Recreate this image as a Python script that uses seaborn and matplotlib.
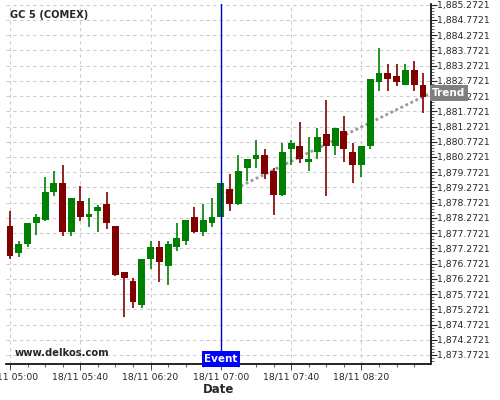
import pandas as pd
import matplotlib.pyplot as plt
import seaborn as sns
from matplotlib.ticker import FixedLocator, AutoMinorLocator, FuncFormatter
import matplotlib.transforms as mtransforms
import numpy as np

# 5 minute candles, GC 5 (COMEX), 18/11 05:00 - 08:55
times = pd.date_range("2019-11-18 05:00", periods=48, freq="5min")
opens = [1878.01, 1877.13, 1877.42, 1878.11, 1878.20, 1879.12, 1879.42, 1877.82,
         1878.83, 1878.30, 1878.50, 1878.73, 1878.01, 1876.49, 1876.20, 1875.41,
         1876.92, 1877.32, 1876.69, 1877.32, 1877.51, 1878.30, 1877.81, 1878.12,
         1878.31, 1879.22, 1878.73, 1879.91, 1880.21, 1880.33, 1879.81, 1879.02,
         1880.54, 1880.63, 1880.11, 1880.45, 1881.03, 1880.63, 1881.13, 1880.44,
         1880.01, 1880.63, 1882.73, 1883.03, 1882.93, 1882.64, 1883.13, 1882.64]
highs = [1878.50, 1877.52, 1878.11, 1878.39, 1879.61, 1879.81, 1880.01, 1878.92,
         1879.32, 1878.91, 1878.69, 1879.12, 1878.01, 1876.49, 1876.29, 1876.92,
         1877.51, 1877.51, 1877.51, 1878.11, 1878.20, 1878.62, 1878.72, 1878.91,
         1879.42, 1879.70, 1880.33, 1880.21, 1880.82, 1880.53, 1879.90, 1880.72,
         1880.82, 1881.41, 1880.92, 1881.21, 1882.13, 1881.22, 1881.62, 1880.73,
         1880.63, 1882.83, 1883.86, 1883.33, 1883.33, 1883.33, 1883.43, 1883.03]
lows = [1876.91, 1877.00, 1877.31, 1877.70, 1878.17, 1879.00, 1877.69, 1877.69,
        1878.18, 1877.98, 1877.80, 1877.90, 1876.37, 1875.01, 1875.30, 1875.30,
        1876.58, 1876.18, 1876.08, 1877.20, 1877.39, 1877.79, 1877.69, 1877.98,
        1878.31, 1878.49, 1878.69, 1879.49, 1879.91, 1879.56, 1878.38, 1878.99,
        1880.00, 1880.09, 1879.80, 1880.21, 1879.00, 1880.33, 1880.10, 1879.41,
        1879.61, 1880.53, 1882.43, 1882.43, 1882.60, 1882.64, 1882.43, 1881.71]
closes = [1877.02, 1877.42, 1878.11, 1878.30, 1879.12, 1879.42, 1877.82, 1878.92,
          1878.30, 1878.40, 1878.63, 1878.12, 1876.40, 1876.31, 1875.52, 1876.92,
          1877.32, 1876.82, 1877.42, 1877.61, 1878.20, 1877.81, 1878.20, 1878.31,
          1879.42, 1878.74, 1879.81, 1880.21, 1880.33, 1879.71, 1879.02, 1880.44,
          1880.73, 1880.21, 1880.21, 1880.93, 1880.63, 1881.22, 1880.54, 1880.01,
          1880.63, 1882.83, 1883.03, 1882.83, 1882.73, 1883.13, 1882.64, 1882.24]

event_idx = 24                      # 18/11 07:00
trend_idx = [24, 47.86]
trend_price = [1879.00, 1882.37]
ytick_vals = np.arange(1873.7721, 1885.3, 0.5)

df = pd.DataFrame({"time": times, "open": opens, "high": highs,
                   "low": lows, "close": closes})
df["i"] = range(len(df))
df["up"] = df["close"] >= df["open"]
df["color"] = np.where(df["up"], "#008000", "#800000")

sns.set_style("white")
fig = plt.figure(figsize=(5, 4), dpi=100)
ax = fig.add_axes([0.012, 0.09, 0.849, 0.90])

# wicks + bodies
ax.vlines(df["i"], df["low"], df["high"], colors=df["color"], linewidth=1.2, zorder=3)
body_lo = df[["open", "close"]].min(axis=1)
body_h = (df["close"] - df["open"]).abs().clip(lower=0.03)
ax.bar(df["i"], body_h, bottom=body_lo, width=0.78, color=df["color"],
       linewidth=0, zorder=4)

# trend line
tr = pd.DataFrame({"x": trend_idx, "y": trend_price})
sns.lineplot(data=tr, x="x", y="y", ax=ax, color="#999999", linewidth=2,
             linestyle=(0, (1, 1)), zorder=2)

# event line
ax.axvline(event_idx, color="#0000cc", linewidth=1, zorder=5)
ax.text(event_idx, 1873.476, "Event", color="white", fontsize=7.5, fontweight="bold",
        ha="center", va="bottom", zorder=6,
        bbox=dict(boxstyle="square,pad=0.25", fc="#0000ff", ec="none"))

# trend label on the right axis
trans = mtransforms.blended_transform_factory(ax.transAxes, ax.transData)
ax.text(1.004, trend_price[1], "Trend", transform=trans, color="white", fontsize=7.5,
        fontweight="bold", ha="left", va="center", zorder=6, clip_on=False,
        bbox=dict(boxstyle="square,pad=0.25", fc="#808080", ec="none"))

ax.text(0.01, 0.982, "GC 5 (COMEX)", transform=ax.transAxes, fontsize=7.1,
        fontweight="bold", va="top", ha="left")
ax.text(0.021, 0.018, "www.delkos.com", transform=ax.transAxes, fontsize=7.2,
        fontweight="bold", va="bottom", ha="left")

ax.set_xlim(-0.45, 47.86)
ax.set_ylim(1873.476, 1885.295)

xt = list(range(0, 48, 8))
ax.xaxis.set_major_locator(FixedLocator(xt))
ax.xaxis.set_minor_locator(FixedLocator(list(range(0, 48, 2))))
ax.set_xticklabels([df["time"][k].strftime("%d/%m %H:%M") for k in xt], fontsize=6.7)
ax.yaxis.tick_right()
ax.yaxis.set_major_locator(FixedLocator(ytick_vals))
ax.yaxis.set_minor_locator(AutoMinorLocator(5))
ax.yaxis.set_major_formatter(FuncFormatter(lambda v, p: f"{v:,.4f}"))
ax.tick_params(axis="y", which="major", labelsize=6.7, length=4, width=0.8, pad=1, direction="out", right=True)
ax.tick_params(axis="y", which="minor", length=2, width=0.5, right=True)
ax.tick_params(axis="x", which="major", length=4, width=0.6, pad=2, bottom=True)
ax.tick_params(axis="x", which="minor", length=2, width=0.5, bottom=True)

ax.grid(True, which="major", color="#cccccc", linestyle=(0, (3, 3)), linewidth=0.8)
for s in ["top", "left"]:
    ax.spines[s].set_visible(False)
for s in ["bottom", "right"]:
    ax.spines[s].set_color("black")
    ax.spines[s].set_linewidth(1.2)

ax.set_xlabel("Date", fontsize=8.5, fontweight="bold", labelpad=1)
ax.set_ylabel("")

fig.savefig("out.png", dpi=100)
